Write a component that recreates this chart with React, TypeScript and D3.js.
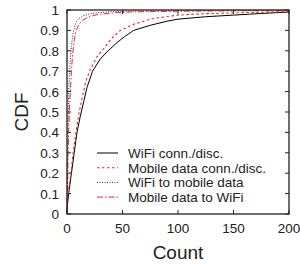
import React, { useEffect, useRef } from 'react';
import * as d3 from 'd3';

// [count, cdf]
const wifiConn: [number, number][] = [
  [0, 0], [0.5, 0.05], [1.5, 0.1], [4, 0.2], [6.5, 0.3], [9, 0.4], [12, 0.48], [15, 0.55],
  [18, 0.62], [23, 0.7], [30, 0.76], [37, 0.8], [45, 0.84], [52, 0.87], [60, 0.9],
  [75, 0.925], [90, 0.945], [100, 0.955], [125, 0.967], [150, 0.975], [175, 0.983], [200, 0.99],
];
const mobileConn: [number, number][] = [
  [0, 0], [0.5, 0.06], [1.5, 0.12], [3.5, 0.2], [5.5, 0.3], [8, 0.4], [11, 0.5], [14, 0.58],
  [17, 0.65], [21, 0.71], [27, 0.77], [33, 0.81], [40, 0.86], [48, 0.9], [60, 0.93],
  [75, 0.955], [90, 0.968], [100, 0.975], [125, 0.982], [150, 0.986], [175, 0.989], [200, 0.992],
];
const wifiToMobile: [number, number][] = [
  [0, 0], [0.3, 0.2], [0.8, 0.4], [1.5, 0.6], [2.5, 0.72], [3.6, 0.8], [5, 0.87], [6, 0.9],
  [8, 0.94], [11, 0.96], [15, 0.972], [20, 0.98], [28, 0.987], [40, 0.992], [60, 0.995],
  [100, 0.997], [150, 0.998], [200, 0.999],
];
const mobileToWifi: [number, number][] = [
  [0, 0], [0.5, 0.15], [1, 0.3], [1.5, 0.4], [2.5, 0.55], [4, 0.7], [5, 0.78], [6.5, 0.85],
  [8, 0.9], [11, 0.93], [14, 0.95], [21, 0.97], [30, 0.98], [45, 0.987], [60, 0.991],
  [100, 0.994], [150, 0.996], [200, 0.997],
];

const seriesNames = ['WiFi conn./disc.', 'Mobile data conn./disc.', 'WiFi to mobile data', 'Mobile data to WiFi'];
const xTicks = [0, 50, 100, 150, 200];
const yTicks = [0, 0.1, 0.2, 0.3, 0.4, 0.5, 0.6, 0.7, 0.8, 0.9, 1];

const App = () => {
  const ref = useRef<SVGSVGElement>(null);

  useEffect(() => {
    const svg = d3.select(ref.current);
    svg.selectAll('*').remove();
    const left = 67, right = 289, top = 10, bottom = 214;
    const x = d3.scaleLinear().domain([0, 200]).range([left, right]);
    const y = d3.scaleLinear().domain([0, 1]).range([bottom, top]);
    const font = 'Liberation Sans, Arial, sans-serif';

    const g = svg.append('g');
    // ticks (inside, mirrored)
    xTicks.forEach(t => {
      g.append('line').attr('x1', x(t)).attr('x2', x(t)).attr('y1', bottom).attr('y2', bottom - 4).attr('stroke', '#222');
      g.append('line').attr('x1', x(t)).attr('x2', x(t)).attr('y1', top).attr('y2', top + 4).attr('stroke', '#222');
      g.append('text').attr('x', x(t)).attr('y', bottom + 19).attr('text-anchor', 'middle')
        .attr('font-family', font).attr('font-size', 13.5).attr('fill', '#222').text(t);
    });
    yTicks.forEach(t => {
      g.append('line').attr('x1', left).attr('x2', left + 4).attr('y1', y(t)).attr('y2', y(t)).attr('stroke', '#222');
      g.append('line').attr('x1', right).attr('x2', right - 4).attr('y1', y(t)).attr('y2', y(t)).attr('stroke', '#222');
      g.append('text').attr('x', left - 8).attr('y', y(t) + 5).attr('text-anchor', 'end')
        .attr('font-family', font).attr('font-size', 13.5).attr('fill', '#222').text(d3.format('~g')(t));
    });

    const line = d3.line<[number, number]>().x(d => x(d[0])).y(d => y(d[1]));
    const styles = [
      { data: wifiConn, color: '#000', dash: null, w: 1 },
      { data: mobileConn, color: '#e8272c', dash: '2.5,2.5', w: 1.1 },
      { data: wifiToMobile, color: '#333', dash: '1,1.5', w: 1 },
      { data: mobileToWifi, color: '#e8272c', dash: '6,2,1.5,2', w: 1 },
    ];
    styles.forEach(s => {
      g.append('path').datum(s.data).attr('d', line).attr('fill', 'none')
        .attr('stroke', s.color).attr('stroke-width', s.w).attr('stroke-dasharray', s.dash);
    });

    g.append('rect').attr('x', left).attr('y', top).attr('width', right - left).attr('height', bottom - top)
      .attr('fill', 'none').attr('stroke', '#222').attr('stroke-width', 1.3);

    // legend
    styles.forEach((s, i) => {
      const ly = 153 + i * 14.7;
      g.append('line').attr('x1', 97).attr('x2', 118).attr('y1', ly).attr('y2', ly)
        .attr('stroke', s.color).attr('stroke-width', s.w).attr('stroke-dasharray', s.dash);
      g.append('text').attr('x', 128).attr('y', ly + 5).attr('font-family', font).attr('font-size', 13.5)
        .attr('fill', '#222').text(seriesNames[i]);
    });

    g.append('text').attr('x', 178).attr('y', 259).attr('text-anchor', 'middle')
      .attr('font-family', font).attr('font-size', 19).attr('fill', '#222').text('Count');
    g.append('text').attr('transform', 'translate(28,112) rotate(-90)').attr('text-anchor', 'middle')
      .attr('font-family', font).attr('font-size', 19).attr('fill', '#222').text('CDF');
  }, []);

  return (
    <svg ref={ref} width={300} height={264} style={{ position: 'absolute', left: 0, top: 0, background: '#fff' }} />
  );
};

export default App;
